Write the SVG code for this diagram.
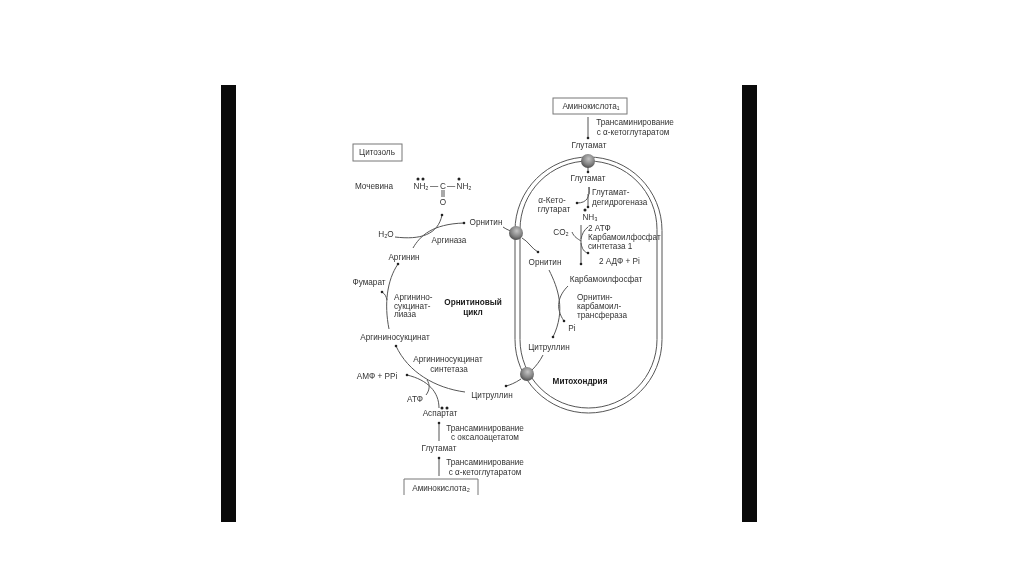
<svg xmlns="http://www.w3.org/2000/svg" width="1024" height="574" viewBox="0 0 1024 574">
<style>
text{font-family:"Liberation Sans",Arial,sans-serif;font-size:8.2px;fill:#333;text-anchor:middle}
.l{text-anchor:start}
.b{font-weight:bold;fill:#1a1a1a}
.c{fill:none;stroke:#555;stroke-width:1}
.m{fill:none;stroke:#555;stroke-width:1}
.box{fill:#fff;stroke:#777;stroke-width:1}
.d{fill:#222}
.s{filter:url(#soft)}
</style>
<defs>
<filter id="soft" filterUnits="userSpaceOnUse" x="0" y="0" width="1024" height="574"><feGaussianBlur stdDeviation="0.35"/></filter>
<marker id="dot" viewBox="0 0 4 4" refX="2" refY="2" markerWidth="4" markerHeight="4" markerUnits="userSpaceOnUse"><circle cx="2" cy="2" r="1.300" fill="#222"/></marker>
<radialGradient id="ball" cx="0.55" cy="0.35" r="0.7"><stop offset="0" stop-color="#c4c4c4"/><stop offset="0.6" stop-color="#808080"/><stop offset="1" stop-color="#444"/></radialGradient>
</defs>
<rect width="1024" height="574" fill="#fff"/>
<rect x="221" y="85" width="15" height="437" fill="#0a0a0a"/>
<rect x="742" y="85" width="15" height="437" fill="#0a0a0a"/>

<g id="mitochondrion" class="s">
<rect class="m" x="515" y="157" width="147" height="256" rx="73.500" ry="73.500"/>
<rect class="m" x="520" y="161" width="137" height="247" rx="68.500" ry="68.500"/>
<text class="b" x="580" y="384">Митохондрия</text>
</g>

<g id="connectors" class="s">
<path class="c" marker-end="url(#dot)" d="M588 117V138"/>
<path class="c" marker-end="url(#dot)" d="M588 166V172"/>
<path class="c" d="M589 187V194"/>
<path class="c" marker-end="url(#dot)" d="M589 187C590 197 587 203 577 203"/>
<path class="c" marker-end="url(#dot)" d="M588 194V207"/>
<path class="c" marker-end="url(#dot)" d="M581 225V264"/>
<path class="c" d="M572 232C574 237 578 239 581 241"/>
<path class="c" d="M588 227C584 230 582 234 581 239"/>
<path class="c" marker-end="url(#dot)" d="M581 243C582 249 584 252 588 253"/>
<path class="c" d="M503 227C506 229 508 230 511 231"/>
<path class="c" marker-end="url(#dot)" d="M522 238C528 241 532 249 538 252"/>
<path class="c" marker-end="url(#dot)" d="M549 270C558 288 566 310 553 337"/>
<path class="c" marker-end="url(#dot)" d="M568 286C558 296 555 308 564 321"/>
<path class="c" d="M543 355C540 361 536 366 532 370"/>
<path class="c" marker-end="url(#dot)" d="M521 379C515 383 510 385 506 386"/>
<path class="c" marker-end="url(#dot)" d="M465 392C435 388 408 372 396 346"/>
<path class="c" marker-end="url(#dot)" d="M439 408C439 392 428 380 407 375"/>
<path class="c" d="M426 395C430 390 430 384 427 380"/>
<path class="c" marker-end="url(#dot)" d="M389 329C384 304 387 280 398 264"/>
<path class="c" marker-end="url(#dot)" d="M387 300C386 296 385 294 382 292"/>
<path class="c" marker-end="url(#dot)" d="M413 248C420 236 432 224 464 223"/>
<path class="c" marker-end="url(#dot)" d="M395 237C420 240 438 235 442 215"/>
<path class="c" marker-end="url(#dot)" d="M439 441V423"/>
<path class="c" marker-end="url(#dot)" d="M439 476V458"/>
</g>

<g id="ball-1"><circle cx="588" cy="161" r="7" fill="url(#ball)"/></g>
<g id="ball-2"><circle cx="516" cy="233" r="7" fill="url(#ball)"/></g>
<g id="ball-3"><circle cx="527" cy="374" r="7" fill="url(#ball)"/></g>

<g id="cytosol" class="s"><rect class="box" x="353" y="144" width="49" height="17"/><text x="377" y="155">Цитозоль</text></g>
<g id="aminoacid1" class="s"><rect class="box" x="553" y="98" width="74" height="16"/><text x="591" y="109">Аминокислота₁</text></g>
<g id="aminoacid2" class="s"><path class="box" d="M404 495V479H478V495"/><text x="441" y="491">Аминокислота₂</text></g>

<g id="urea" class="s">
<text x="374" y="189">Мочевина</text>
<text x="421" y="189">NH₂</text>
<text x="434" y="189">—</text>
<text x="443" y="189">C</text>
<text x="451" y="189">—</text>
<text x="464" y="189">NH₂</text>
<text x="443" y="205">O</text>
<path class="m" d="M442 190V197M444 190V197"/>
<circle class="d" cx="418" cy="179" r="1.500"/><circle class="d" cx="423" cy="179" r="1.500"/><circle class="d" cx="459" cy="179" r="1.500"/>
</g>

<g id="labels" class="s">
<text x="635" y="125">Трансаминирование</text>
<text x="633" y="135">с α-кетоглутаратом</text>
<text x="589" y="148">Глутамат</text>
<text x="588" y="181">Глутамат</text>
<text class="l" x="592" y="195">Глутамат-</text>
<text class="l" x="592" y="204.500">дегидрогеназа</text>
<text x="552" y="203">α-Кето-</text>
<text x="554" y="212">глутарат</text>
<text x="590" y="220">NH₃</text>
<circle class="d" cx="585" cy="210" r="1.500"/>
<text x="561" y="235">CO₂</text>
<text class="l" x="588" y="231">2 АТФ</text>
<text class="l" x="588" y="240">Карбамоилфосфат</text>
<text class="l" x="588" y="249">синтетаза 1</text>
<text class="l" x="599" y="264">2 АДФ + Pi</text>
<text x="545" y="265">Орнитин</text>
<text x="606" y="282">Карбамоилфосфат</text>
<text class="l" x="577" y="300">Орнитин-</text>
<text class="l" x="577" y="309">карбамоил-</text>
<text class="l" x="577" y="318">трансфераза</text>
<text x="572" y="331">Pi</text>
<text x="549" y="350">Цитруллин</text>
<text x="486" y="225">Орнитин</text>
<text x="386" y="237">H₂O</text>
<text x="449" y="243">Аргиназа</text>
<text x="404" y="260">Аргинин</text>
<text x="369" y="285">Фумарат</text>
<text class="l" x="394" y="299.500">Аргинино-</text>
<text class="l" x="394" y="309">сукцинат-</text>
<text class="l" x="394" y="317">лиаза</text>
<text class="b" x="473" y="305">Орнитиновый</text>
<text class="b" x="473" y="315">цикл</text>
<text x="395" y="340">Аргининосукцинат</text>
<text x="448" y="362">Аргининосукцинат</text>
<text x="449" y="372">синтетаза</text>
<text x="377" y="379">АМФ + PPi</text>
<text x="415" y="402">АТФ</text>
<text x="440" y="416">Аспартат</text>
<circle class="d" cx="442" cy="408" r="1.500"/><circle class="d" cx="447" cy="408" r="1.500"/>
<text x="492" y="398">Цитруллин</text>
<text x="485" y="431">Трансаминирование</text>
<text x="485" y="440">с оксалоацетатом</text>
<text x="439" y="451">Глутамат</text>
<text x="485" y="465">Трансаминирование</text>
<text x="485" y="475">с α-кетоглутаратом</text>
</g>
</svg>
